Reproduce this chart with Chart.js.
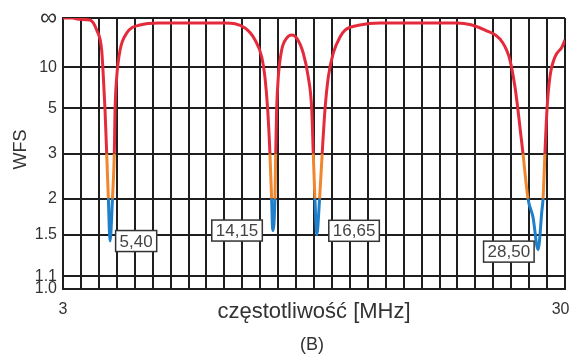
<!DOCTYPE html>
<html lang="pl">
<head>
<meta charset="utf-8">
<title>WFS</title>
<script src="https://cdn.jsdelivr.net/npm/chart.js@4.4.1/dist/chart.umd.min.js"></script>
<style>
  html, body { margin: 0; padding: 0; background: #fff; }
  #wrap { width: 572px; height: 356px; }
</style>
</head>
<body>
<div id="wrap"><canvas id="wfs-chart" width="572" height="356"></canvas></div>
<script>
"use strict";

// Frequency points [MHz]
var freqMHz = [
  3.00, 3.50, 3.91, 4.45, 4.81, 5.08, 5.17, 5.26, 5.35, 5.44, 5.53, 5.66, 5.76, 5.80, 5.89, 6.07, 6.43, 7.14, 8.22,
  10.4, 11.7, 12.79, 13.33, 13.69, 13.86, 14.01, 14.13, 14.22, 14.28, 14.40, 14.44, 14.49, 14.58, 14.76, 15.03,
  15.30, 15.57, 15.92, 16.19, 16.38, 16.46, 16.55, 16.65, 16.80, 16.94, 17.09, 17.27, 17.54, 17.90, 18.17, 18.97,
  20.05, 22.0, 24.19, 25.70, 26.66, 27.04, 27.31, 27.47, 27.74, 28.01, 28.28, 28.55, 28.76, 28.82, 28.92, 29.03,
  29.19, 29.46, 29.84, 30.00
];
// WFS (SWR) at each point, Infinity = top of the scale
var wfsValues = [
  Infinity, Infinity, 400, 270, 44, 15.9, 8.2, 4.9, 3.0, 2.0, 1.43, 2.0, 3.0, 4.9, 8.2, 15.9, 35, 76, 107,
  110, 107, 53, 23.7, 12.9, 8.2, 4.9, 3.0, 2.0, 1.55, 2.0, 3.0, 4.9, 8.2, 15.9, 26,
  31, 26, 14.5, 8.2, 4.9, 3.0, 2.0, 1.5, 2.0, 3.0, 4.9, 8.2, 14.5, 27.5, 44, 76,
  107, 110, 107, 44, 20.7, 11.9, 6.85, 4.9, 3.0, 2.0, 1.72, 1.34, 1.82, 2.0, 3.0, 4.9,
  8.2, 12.9, 17.7, 23.7
];

// Y axis ticks (WFS values and their labels)
var yTickValues = [Infinity, 10, 5, 3, 2, 1.5, 1.1, 1.0];
var yTickLabels = ["\u221E", "10", "5", "3", "2", "1.5", "1.1", "1.0"];

// X axis
var xMin = 3;
var xMax = 30;
var xTickLabels = ["3", "30"];
var xGridCount = 28;

// Resonance markers
var dipFreq = [5.40, 14.15, 16.65, 28.50];
var dipWfs = [1.43, 1.55, 1.5, 1.34];
var dipLabels = ["5,40", "14,15", "16,65", "28,50"];

var axisTitleX = "częstotliwość [MHz]";
var axisTitleY = "WFS";
var panelLabel = "(B)";

var FONT = '"Liberation Sans", Arial, sans-serif';
var GRID = "#1e1e1e";

// WFS plotted on a reflection coefficient scale
function toGamma(s) {
  return s === Infinity ? 1 : (s - 1) / (s + 1);
}

function segColor(ctx) {
  var g = (ctx.p0.parsed.y + ctx.p1.parsed.y) / 2;
  if (g > toGamma(3)) return "#e42b3c";
  if (g > toGamma(2)) return "#f0862e";
  return "#1f7fc8";
}

// Boxed frequency labels next to the dips
var dipLabelPlugin = {
  id: "dipLabels",
  afterDatasetsDraw: function (chart) {
    var ctx = chart.ctx;
    var xs = chart.scales.x;
    var ys = chart.scales.y;
    // [dx, dy, side] relative to the dip
    var place = [[8, 0, "right"], [-8, 0, "left"], [12, -4, "right"], [-3, 2, "left"]];
    ctx.save();
    ctx.font = "17px " + FONT;
    dipLabels.forEach(function (txt, i) {
      var px = xs.getPixelForValue(dipFreq[i]);
      var py = ys.getPixelForValue(toGamma(dipWfs[i]));
      var w = ctx.measureText(txt).width + 8;
      var h = 21;
      var left = place[i][2] === "right" ? px + place[i][0] : px + place[i][0] - w;
      var top = py + place[i][1] - h / 2;
      ctx.fillStyle = "#fff";
      ctx.fillRect(left, top, w, h);
      ctx.strokeStyle = "#333";
      ctx.lineWidth = 1.5;
      ctx.strokeRect(left, top, w, h);
      ctx.fillStyle = "#444";
      ctx.textAlign = "center";
      ctx.textBaseline = "middle";
      ctx.fillText(txt, left + w / 2, top + h / 2 + 1);
    });
    ctx.restore();
  },
};

// Axis titles and panel letter
var titlePlugin = {
  id: "titles",
  afterDraw: function (chart) {
    var ctx = chart.ctx;
    var a = chart.chartArea;
    ctx.save();
    ctx.fillStyle = "#333";
    ctx.textAlign = "center";
    ctx.textBaseline = "middle";

    ctx.font = "22px " + FONT;
    ctx.fillText(axisTitleX, (a.left + a.right) / 2, a.bottom + 23);

    ctx.font = "18px " + FONT;
    ctx.fillText(panelLabel, (a.left + a.right) / 2 - 2, a.bottom + 56);

    ctx.translate(21, (a.top + a.bottom) / 2 - 4);
    ctx.rotate(-Math.PI / 2);
    ctx.font = "18px " + FONT;
    ctx.fillText(axisTitleY, 0, 0);
    ctx.restore();
  },
};

var points = freqMHz.map(function (f, i) {
  return { x: f, y: toGamma(wfsValues[i]) };
});

new Chart(document.getElementById("wfs-chart").getContext("2d"), {
  type: "line",
  data: {
    datasets: [
      {
        data: points,
        borderColor: "#e42b3c",
        borderWidth: 3,
        pointRadius: 0,
        cubicInterpolationMode: "monotone",
        segment: { borderColor: segColor },
      },
    ],
  },
  options: {
    responsive: false,
    animation: false,
    layout: { padding: { top: 18, right: 7, left: 0, bottom: 0 } },
    plugins: { legend: { display: false }, tooltip: { enabled: false } },
    scales: {
      x: {
        type: "linear",
        min: xMin,
        max: xMax,
        afterBuildTicks: function (scale) {
          var t = [];
          for (var i = 0; i <= xGridCount; i++) {
            t.push({ value: xMin + (i * (xMax - xMin)) / xGridCount });
          }
          scale.ticks = t;
        },
        afterFit: function (scale) {
          scale.height = 67;
          // keep the "30" label from pulling the plot in
          scale.paddingLeft = 0;
          scale.paddingRight = 0;
        },
        ticks: {
          autoSkip: false,
          maxRotation: 0,
          padding: 11,
          color: "#333",
          font: { size: 16, family: FONT },
          callback: function (v, i, ticks) {
            if (i === 0) return xTickLabels[0];
            // trailing spaces nudge the last label back inside the canvas
            if (i === ticks.length - 1) return xTickLabels[1] + "\u00a0\u00a0";
            return "";
          },
        },
        grid: { color: GRID, lineWidth: 2, drawTicks: false },
        border: { color: GRID, width: 2 },
      },
      y: {
        type: "linear",
        min: 0,
        max: 1,
        afterBuildTicks: function (scale) {
          scale.ticks = yTickValues.map(function (v) {
            return { value: toGamma(v) };
          });
        },
        afterFit: function (scale) {
          scale.width = 63;
          scale.paddingTop = 0;
          scale.paddingBottom = 0;
        },
        ticks: {
          padding: 6,
          color: "#333",
          font: function (c) {
            return c.index === 0 ? { size: 24, family: FONT } : { size: 16, family: FONT };
          },
          callback: function (v, i) {
            return yTickLabels[i];
          },
        },
        grid: { color: GRID, lineWidth: 2, drawTicks: false },
        border: { color: GRID, width: 2 },
      },
    },
  },
  plugins: [dipLabelPlugin, titlePlugin],
});
</script>
</body>
</html>
